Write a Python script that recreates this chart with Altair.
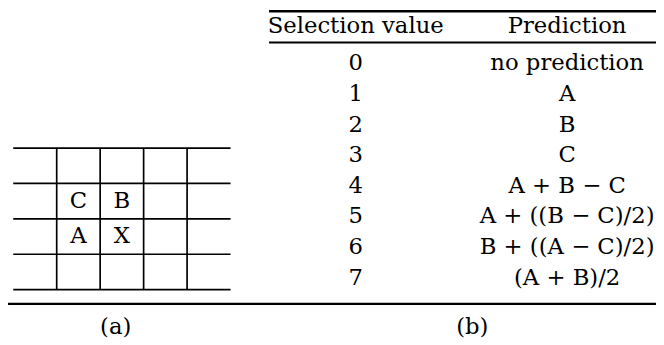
import altair as alt
import pandas as pd

# ---------------- data ----------------
header_labels = ["Selection value", "Prediction"]
selection_values = ["0", "1", "2", "3", "4", "5", "6", "7"]
predictions = ["no prediction", "A", "B", "C", "A + B − C",
               "A + ((B − C)/2)", "B + ((A − C)/2)", "(A + B)/2"]
grid_letters = ["C", "B", "A", "X"]
grid_letter_rows = [1, 1, 2, 2]
grid_letter_cols = [1, 2, 1, 2]
grid_n_rows = 4
grid_n_cols = 5
captions = ["(a)", "(b)"]

# ---------------- layout / style ----------------
W, H = 656, 337
FONT = "DejaVu Serif"
FS = 23
INK = "#000000"

# table coordinate system: column index / row index
tx = alt.Scale(domain=[0, 1], range=[352, 566])
ty = alt.Scale(domain=[0, 7], range=[54, 271])
HEADER_ROW = -1.23
TABLE_RULES = [  # (row position, from col, to col, width)
    (-1.70, -0.41, 1.6, 2.6),
    (-0.68, -0.41, 1.6, 2.0),
    (7.855, -1.7, 1.6, 2.2),
]
# grid coordinate system
gx = alt.Scale(domain=[0, grid_n_cols], range=[5.3, 225.3])
gy = alt.Scale(domain=[0, grid_n_rows], range=[139.7, 283])
GRID_W = 1.7
# captions
cx = alt.Scale(domain=[0, 1], range=[109, 470])
CAPTION_Y = 321

# ---------------- tables ----------------
rows = []
for i, (s, p) in enumerate(zip(selection_values, predictions)):
    rows.append({"row": i, "col": 0, "label": s})
    rows.append({"row": i, "col": 1, "label": p})
body_df = pd.DataFrame(rows)
head_df = pd.DataFrame({"row": [HEADER_ROW] * 2, "col": [0, 1], "label": header_labels})
trule_df = pd.DataFrame(TABLE_RULES, columns=["row", "c0", "c1", "w"])

text_kw = dict(font=FONT, fontSize=FS, baseline="middle", align="center", color=INK)

t_text = alt.Chart(pd.concat([head_df, body_df])).mark_text(**text_kw).encode(
    x=alt.X("col:Q", scale=tx, axis=None),
    y=alt.Y("row:Q", scale=ty, axis=None),
    text="label:N",
)
t_rules = alt.Chart(trule_df).mark_rule(color=INK).encode(
    x=alt.X("c0:Q", scale=tx, axis=None),
    x2="c1:Q",
    y=alt.Y("row:Q", scale=ty, axis=None),
    strokeWidth=alt.StrokeWidth("w:Q", scale=None, legend=None),
)
table_layer = alt.layer(t_text, t_rules)

# ---------------- grid ----------------
h_df = pd.DataFrame({"r": list(range(grid_n_rows + 1)), "c0": 0, "c1": grid_n_cols})
v_df = pd.DataFrame({"c": list(range(1, grid_n_cols)), "r0": 0, "r1": grid_n_rows})
l_df = pd.DataFrame({"r": [r + 0.5 for r in grid_letter_rows],
                     "c": [c + 0.5 for c in grid_letter_cols],
                     "label": grid_letters})

g_h = alt.Chart(h_df).mark_rule(color=INK, strokeWidth=GRID_W).encode(
    x=alt.X("c0:Q", scale=gx, axis=None), x2="c1:Q",
    y=alt.Y("r:Q", scale=gy, axis=None),
)
g_v = alt.Chart(v_df).mark_rule(color=INK, strokeWidth=GRID_W).encode(
    x=alt.X("c:Q", scale=gx, axis=None),
    y=alt.Y("r0:Q", scale=gy, axis=None), y2="r1:Q",
)
g_t = alt.Chart(l_df).mark_text(**text_kw).encode(
    x=alt.X("c:Q", scale=gx, axis=None),
    y=alt.Y("r:Q", scale=gy, axis=None),
    text="label:N",
)
grid_layer = alt.layer(g_h, g_v, g_t)

# ---------------- captions ----------------
cap_df = pd.DataFrame({"i": [0, 1], "label": captions})
cap = alt.Chart(cap_df).mark_text(**text_kw).encode(
    x=alt.X("i:Q", scale=cx, axis=None),
    y=alt.value(CAPTION_Y),
    text="label:N",
)

chart = alt.layer(table_layer, grid_layer, cap).resolve_scale(
    x="independent", y="independent"
).properties(
    width=W, height=H, padding=0,
    autosize=alt.AutoSizeParams(type="none"),
    background="white",
).configure_view(stroke=None)

chart.save("out.html", embed_options={"renderer": "svg", "actions": False})
